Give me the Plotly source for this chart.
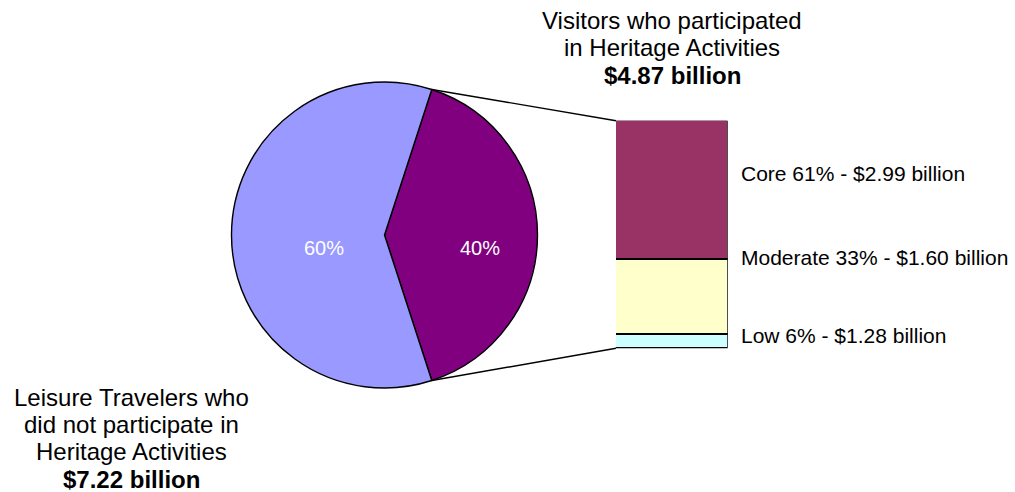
import math
import plotly.graph_objects as go

# ---- data ----
pie_labels = ["Visitors who participated in Heritage Activities",
              "Leisure Travelers who did not participate in Heritage Activities"]
pie_values = [40, 60]
pie_colors = ["#800080", "#9999FF"]

seg_labels = ["Low", "Moderate", "Core"]
seg_values = [6, 33, 61]
seg_amounts = ["$1.28 billion", "$1.60 billion", "$2.99 billion"]
seg_colors = ["#CCFFFF", "#FFFFCC", "#993366"]

top_title = ["Visitors who participated", "in Heritage Activities", "<b>$4.87 billion</b>"]
left_title = ["Leisure Travelers who", "did not participate in", "Heritage Activities",
              "<b>$7.22 billion</b>"]

# ---- layout geometry (pixels) ----
W, H = 1015, 492
FONT = "Liberation Sans, Arial, sans-serif"
pie_cx, pie_cy, pie_r = 384.5, 235.0, 153.0
bar_x0, bar_x1 = 616.0, 727.7
bar_top, bar_bottom = 120.7, 348.3


def fx(px):
    return px / W


def fy(py):
    return 1 - py / H


# the highlighted slice is centred on 3 o'clock
first_share = pie_values[0] / sum(pie_values)
rotation = 90 - 180 * first_share

fig = go.Figure()

fig.add_trace(go.Pie(
    labels=pie_labels, values=pie_values, sort=False,
    direction="clockwise", rotation=rotation,
    marker=dict(colors=pie_colors, line=dict(color="black", width=1.4)),
    textinfo="none", hoverinfo="skip", showlegend=False,
    domain=dict(x=[fx(pie_cx - pie_r), fx(pie_cx + pie_r)],
                y=[fy(pie_cy + pie_r), fy(pie_cy - pie_r)]),
))

for lab, val, col in zip(seg_labels, seg_values, seg_colors):
    fig.add_trace(go.Bar(
        x=[0], y=[val], name=lab, marker=dict(color=col, line=dict(color="black", width=1.2)),
        xaxis="x", yaxis="y", hoverinfo="skip", showlegend=False, width=1,
    ))

# connector lines from the slice edges to the stacked bar
a0 = math.radians(rotation)
a1 = math.radians(rotation + 360 * first_share)
edge_pts = [(pie_cx + pie_r * math.sin(a), pie_cy - pie_r * math.cos(a)) for a in (a0, a1)]
shapes = []
for (ex, ey), by in zip(edge_pts, (bar_top, bar_bottom)):
    shapes.append(dict(type="line", xref="paper", yref="paper",
                       x0=fx(ex), y0=fy(ey), x1=fx(bar_x0), y1=fy(by),
                       line=dict(color="black", width=1.4)))

annotations = []

# percentages inside the slices
pct_pos = [(479.5, 248.0), (324.0, 248.0)]
for val, (px, py) in zip(pie_values, pct_pos):
    annotations.append(dict(text=f"{val}%", x=fx(px), y=fy(py), xref="paper", yref="paper",
                            showarrow=False, xanchor="center", yanchor="middle", borderpad=0,
                            font=dict(family=FONT, size=20, color="white")))

# segment labels to the right of the bar
seg_label_y = [335.0, 257.7, 173.7]
for lab, val, amt, py in zip(seg_labels, seg_values, seg_amounts, seg_label_y):
    annotations.append(dict(text=f"{lab} {val}% - {amt}", x=fx(739.5), y=fy(py),
                            xref="paper", yref="paper", showarrow=False,
                            xanchor="left", yanchor="middle", borderpad=0,
                            font=dict(family=FONT, size=21, color="black")))

# multi-line headings, one line per annotation for tight spacing
for i, line in enumerate(top_title):
    annotations.append(dict(text=line, x=fx(672), y=fy(20.0 + 27.6 * i),
                            xref="paper", yref="paper", showarrow=False,
                            xanchor="center", yanchor="middle", borderpad=0,
                            font=dict(family=FONT, size=24, color="black")))
for i, line in enumerate(left_title):
    annotations.append(dict(text=line, x=fx(131.5), y=fy(397.5 + 27.2 * i),
                            xref="paper", yref="paper", showarrow=False,
                            xanchor="center", yanchor="middle", borderpad=0,
                            font=dict(family=FONT, size=24, color="black")))

fig.update_layout(
    width=W, height=H, margin=dict(l=0, r=0, t=0, b=0),
    paper_bgcolor="white", plot_bgcolor="rgba(0,0,0,0)",
    barmode="stack", bargap=0,
    xaxis=dict(domain=[fx(bar_x0), fx(bar_x1)], range=[-0.5, 0.5], visible=False, fixedrange=True),
    yaxis=dict(domain=[fy(bar_bottom), fy(bar_top)], range=[0, sum(seg_values)], visible=False,
               fixedrange=True),
    shapes=shapes, annotations=annotations, showlegend=False,
)

fig.write_html("out.html", config={"displayModeBar": False})
